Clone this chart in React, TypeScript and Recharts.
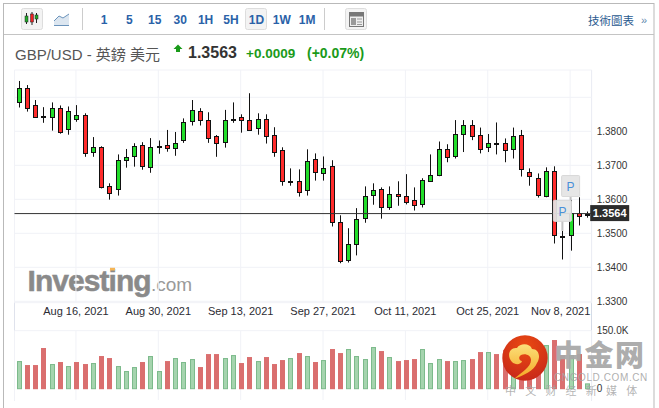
import React from "react";
import { ComposedChart, Bar, XAxis, YAxis, CartesianGrid, ReferenceLine, ReferenceDot } from "recharts";

const opens = [1.3885,1.3926,1.3876,1.3844,1.3841,1.3870,1.3806,1.3835,1.3847,1.3738,1.3753,1.3638,1.3630,1.3715,1.3727,1.3759,1.3694,1.3757,1.3759,1.3750,1.3773,1.3829,1.3859,1.3832,1.3785,1.3768,1.3835,1.3841,1.3832,1.3809,1.3835,1.3788,1.3744,1.3655,1.3655,1.3626,1.3718,1.3676,1.3697,1.3532,1.3421,1.3468,1.3544,1.3612,1.3629,1.3576,1.3615,1.3609,1.3597,1.3585,1.3653,1.3671,1.3747,1.3726,1.3794,1.3820,1.3788,1.3753,1.3765,1.3765,1.3747,1.3788,1.3679,1.3662,1.3609,1.3682,1.3491,1.3494,1.3559,1.3556];
const highs = [1.3948,1.3936,1.3892,1.3871,1.3885,1.3876,1.3873,1.3877,1.3853,1.3783,1.3756,1.3647,1.3732,1.3748,1.3765,1.3768,1.3780,1.3773,1.3804,1.3798,1.3838,1.3892,1.3868,1.3856,1.3789,1.3863,1.3885,1.3850,1.3912,1.3853,1.3850,1.3812,1.3753,1.3691,1.3688,1.3747,1.3735,1.3726,1.3715,1.3553,1.3515,1.3574,1.3638,1.3647,1.3635,1.3638,1.3653,1.3674,1.3635,1.3662,1.3732,1.3770,1.3762,1.3833,1.3833,1.3833,1.3811,1.3792,1.3826,1.3779,1.3811,1.3804,1.3691,1.3676,1.3694,1.3697,1.3507,1.3598,1.3606,1.3564];
const lows = [1.3870,1.3858,1.3840,1.3825,1.3802,1.3793,1.3790,1.3828,1.3725,1.3725,1.3632,1.3599,1.3611,1.3693,1.3696,1.3687,1.3678,1.3734,1.3740,1.3728,1.3766,1.3817,1.3817,1.3766,1.3725,1.3752,1.3825,1.3796,1.3802,1.3790,1.3764,1.3725,1.3640,1.3640,1.3608,1.3611,1.3655,1.3655,1.3520,1.3412,1.3414,1.3435,1.3531,1.3584,1.3543,1.3569,1.3581,1.3585,1.3567,1.3576,1.3652,1.3668,1.3709,1.3720,1.3739,1.3774,1.3735,1.3739,1.3732,1.3709,1.3720,1.3667,1.3640,1.3605,1.3606,1.3470,1.3423,1.3449,1.3523,1.3546];
const closes = [1.3926,1.3868,1.3841,1.3841,1.3868,1.3800,1.3859,1.3847,1.3735,1.3753,1.3635,1.3618,1.3715,1.3723,1.3756,1.3697,1.3753,1.3755,1.3750,1.3765,1.3826,1.3862,1.3832,1.3779,1.3765,1.3832,1.3834,1.3832,1.3803,1.3835,1.3785,1.3738,1.3653,1.3653,1.3623,1.3712,1.3679,1.3691,1.3532,1.3418,1.3468,1.3541,1.3609,1.3626,1.3576,1.3615,1.3609,1.3591,1.3582,1.3656,1.3671,1.3747,1.3723,1.3791,1.3820,1.3788,1.3747,1.3765,1.3762,1.3744,1.3785,1.3688,1.3668,1.3612,1.3682,1.3494,1.3489,1.3559,1.3550,1.3556];
const volumesK = [71.5,61.2,61.2,105.2,63.8,69,58.6,69,63.8,66.4,84.5,79.3,58.6,45.7,56,69,84.5,45.7,71.5,79.3,69,76.7,56,89.6,89.6,79.3,87,66.4,81.9,71.5,81.9,63.8,74.1,79.3,92.2,84.5,69,74.1,102.6,92.2,102.6,84.5,76.7,107.8,97.4,81.9,71.5,74.1,76.7,102.6,66.4,76.7,71.5,71.5,74.1,76.7,94.8,94.8,89.6,100,87,100,82.8,100,112.9,125.9,87,87,89.6,13.8];
const volumeUp = [1,0,0,0,1,0,1,0,0,1,0,0,1,1,1,0,1,1,0,1,1,1,0,0,0,1,1,0,0,1,0,0,0,1,0,1,0,1,0,0,1,1,1,1,0,1,0,0,0,1,1,1,0,1,1,0,0,1,0,0,1,0,0,0,1,0,0,1,0,1];

const dateTicks = [7, 17, 27, 37, 47, 57, 67];
const dateLabels = ["Aug 16, 2021", "Aug 30, 2021", "Sep 13, 2021", "Sep 27, 2021", "Oct 11, 2021", "Oct 25, 2021", "Nov 8, 2021"];
const priceTicks = [1.33, 1.34, 1.35, 1.36, 1.37, 1.38, 1.39];
const volumeTicks = [0, 150];
const markers = [{ i: 67, price: 1.3639 }, { i: 66, price: 1.3566 }];
const intervals = ["1", "5", "15", "30", "1H", "5H", "1D", "1W", "1M"];
const lastLine = 1.3558;
const lastTag = "1.3564";

const candleData = opens.map((o, i) => ({ i, open: o, high: highs[i], low: lows[i], close: closes[i], range: [lows[i], highs[i]] }));
const volumeData = volumesK.map((v, i) => ({ i, v, up: volumeUp[i] }));

const FONT = "'Liberation Sans', Arial, sans-serif";
const CJK = "'Liberation Sans', 'Noto Sans CJK TC', sans-serif";
const W = 659, H = 408;
const MARGIN = { left: 14.5, right: 7.3 };
const X_DOMAIN: [number, number] = [-0.46, 69.62];

const Candle = (p: any) => {
  const { x, y, width, height, payload } = p;
  const { open, close, high, low } = payload;
  const k = height / (high - low);
  const cx = Math.round(x + width / 2) + 0.5;
  const top = y + (high - Math.max(open, close)) * k;
  const h = Math.abs(open - close) * k;
  const fill = close >= open ? "#22dd2a" : "#ff2b2b";
  return (
    <g>
      <line x1={cx} x2={cx} y1={y} y2={y + height} stroke="#111" strokeWidth={1} />
      <rect x={cx - 2} y={Math.round(top) + 0.5} width={4} height={Math.max(Math.round(h), 1)} fill={fill} stroke="#111" strokeWidth={1} />
    </g>
  );
};

const VolumeBar = (p: any) => {
  const { x, y, width, height, payload } = p;
  const cx = Math.round(x + width / 2) + 0.5;
  return payload.up
    ? <rect x={cx - 2} y={y + 0.5} width={4} height={height - 0.5} fill="#a5d4ae" stroke="#7cba8b" strokeWidth={1} />
    : <rect x={cx - 2.5} y={y} width={5} height={height + 0.5} fill="#da6f6f" />;
};

const DateTick = (p: any) => {
  const idx = dateTicks.indexOf(p.payload.value);
  const shift = idx === dateTicks.length - 1 ? -9.5 : 0;
  return <text x={p.x + shift} y={p.y + 4} textAnchor="middle" fontSize={11} fontFamily={FONT} fill="#2b2b33">{dateLabels[idx]}</text>;
};

const Marker = (p: any) => (
  <g>
    <line x1={p.cx + 0.5} x2={p.cx + 0.5} y1={p.cy + 10} y2={p.cy + 20} stroke="#aaa" strokeWidth={2} opacity={0.7} />
    <rect x={p.cx - 8.5} y={p.cy - 10.5} width={18} height={21} rx={1} fill="#e4e4e4" fillOpacity={0.93} stroke="#d8d8d8" />
    <text x={p.cx + 0.5} y={p.cy + 5} textAnchor="middle" fontSize={12} fontFamily={FONT} fill="#4a90d9">P</text>
  </g>
);

const TagLabel = (p: any) => {
  const { x, y, width } = p.viewBox;
  const left = x + width - 1.5;
  return (
    <g>
      <rect x={left} y={y - 8.5} width={39} height={16} fill="#2c2c2c" />
      <text x={left + 19.5} y={y + 3.5} textAnchor="middle" fontSize={11} fontWeight="bold" fontFamily={FONT} fill="#fff">{lastTag}</text>
    </g>
  );
};

const Background = () => (
  <svg width={W} height={H} style={{ position: "absolute", left: 0, top: 0 }}>
    <rect x={3.5} y={3.5} width={650.5} height={420} fill="#fff" stroke="#b9b9b9" />
    <line x1={4} x2={654} y1={34.5} y2={34.5} stroke="#c4c4c4" />
    <rect x={21.5} y={8.5} width={21} height={21} rx={2} fill="#f3f3f3" stroke="#ddd" />
    <g stroke="#222" strokeWidth={1}>
      <line x1={26.5} x2={26.5} y1={13} y2={24} /><line x1={32} x2={32} y1={12} y2={25} /><line x1={36.5} x2={36.5} y1={13} y2={23} />
    </g>
    <rect x={25} y={16} width={3} height={6} fill="#22aa2a" stroke="#222" strokeWidth={0.5} />
    <rect x={30.5} y={14} width={3} height={8} fill="#e22" stroke="#222" strokeWidth={0.5} />
    <rect x={35} y={15} width={3} height={4} fill="#22aa2a" stroke="#222" strokeWidth={0.5} />
    <path d="M54 21 L59 16 L63 18 L69 14 V26 H54 Z" fill="#dce6f0" />
    <path d="M54 21 L59 16 L63 18 L69 14 M54 25.5 H69" fill="none" stroke="#6b93bb" strokeWidth={1} />
    <line x1={82.5} x2={82.5} y1={8} y2={30} stroke="#ccc" />
    <line x1={324.5} x2={324.5} y1={8} y2={30} stroke="#ccc" />
    <rect x={245.5} y={8.5} width={21} height={21} rx={2} fill="#f3f3f3" stroke="#ddd" />
    {intervals.map((t, i) => (
      <text key={t} x={104 + i * 25.4} y={23.5} textAnchor="middle" fontSize={12} fontWeight="bold" fontFamily={FONT} fill="#2a62a8">{t}</text>
    ))}
    <rect x={345.5} y={8.5} width={21} height={21} rx={2} fill="#f3f3f3" stroke="#ddd" />
    <rect x={349.5} y={12.5} width={14} height={14} fill="#eee" stroke="#777" />
    <rect x={350} y={13} width={13} height={3.5} fill="#777" />
    <rect x={351} y={18} width={5} height={7} fill="#999" />
    <line x1={357} x2={362} y1={19} y2={19} stroke="#999" /><line x1={357} x2={362} y1={22} y2={22} stroke="#999" /><line x1={357} x2={362} y1={24.5} y2={24.5} stroke="#999" />
    <text x={588} y={24.5} fontSize={11.5} fontFamily={CJK} fill="#2a5a90">技術圖表</text>
    <text x={641} y={24} fontSize={11} fontFamily={FONT} fill="#5f87ad">»</text>

    <text x={15} y={60} fontSize={15} fontFamily={CJK} fill="#555">GBP/USD - 英鎊 美元</text>
    <path d="M178 44.5 L182.5 49 H180 V52 H176 V49 H173.5 Z" fill="#1a9a1a" />
    <text x={188} y={58} fontSize={16} fontWeight="bold" fontFamily={FONT} fill="#333">1.3563</text>
    <text x={246} y={58} fontSize={13.5} fontWeight="bold" fontFamily={FONT} fill="#1a9a1a">+0.0009</text>
    <text x={307} y={58} fontSize={14} fontWeight="bold" fontFamily={FONT} fill="#1a9a1a">(+0.07%)</text>

    <line x1={14.5} x2={14.5} y1={70} y2={400.5} stroke="#dfe2ec" />
    <line x1={591.5} x2={591.5} y1={70} y2={400.5} stroke="#d5dbe6" />
    <text x={27.5} y={291} fontSize={30} fontWeight="bold" letterSpacing={-0.95} fontFamily={FONT} fill="#8a8a8a" stroke="#8a8a8a" strokeWidth={0.5}>Investing</text>
    <text x={151} y={291} fontSize={19} fontFamily={FONT} fill="#9a9a9a">.com</text>
    <rect x={110} y={267} width={5} height={3.5} fill="#f5b556" />
  </svg>
);

const Foreground = () => (
  <svg width={W} height={H} style={{ position: "absolute", left: 0, top: 0, pointerEvents: "none" }}>
    <defs>
      <radialGradient id="sun" cx="0.5" cy="0.25" r="0.85">
        <stop offset="0" stopColor="#ea4a12" />
        <stop offset="1" stopColor="#c4241a" />
      </radialGradient>
      <linearGradient id="cloud" x1="0" y1="0" x2="0" y2="1">
        <stop offset="0" stopColor="#fbe07a" />
        <stop offset="1" stopColor="#f5a623" />
      </linearGradient>
    </defs>
    <circle cx={525} cy={358} r={22.7} fill="url(#sun)" />
    <path d="M512 362 C506 355 510 347 517 348 C520 343 530 343 532 349 C539 349 541 357 537 363 C534 371 524 375 514 379 C522 372 531 367 531 360 C531 355 525 353 521 355 C518 357 519 361 522 361 C521 365 515 365 512 362 Z" fill="url(#cloud)" />
    <text x={554} y={366} fontSize={29} fontWeight={900} letterSpacing={1.5} fontFamily="'Noto Sans CJK SC', sans-serif" fill="#a8a8a8" fillOpacity={0.95}>中金网</text>
    <text x={554} y={381} fontSize={10} letterSpacing={0.6} fontFamily={FONT} fill="#a6a6a6" fillOpacity={0.9}>CNGOLD.COM.CN</text>
    <text x={505} y={395} fontSize={11} letterSpacing={9.2} fontFamily="'Noto Sans CJK SC', sans-serif" fill="#a6a6a6" fillOpacity={0.85}>中文财经新媒体</text>
  </svg>
);

export default function App() {
  return (
    <div style={{ position: "absolute", left: 0, top: 0, width: W, height: H, overflow: "hidden", background: "#fff" }}>
      <Background />
      <div style={{ position: "absolute", left: 0, top: 0 }}>
        <ComposedChart width={W} height={H} data={candleData} margin={{ top: 70, bottom: 77.3, ...MARGIN }} barSize={5}>
          <CartesianGrid stroke="#f1f2f7" strokeWidth={1} />
          <XAxis dataKey="i" type="number" domain={X_DOMAIN} allowDataOverflow ticks={dateTicks} height={28} axisLine={false} tickLine={false} tick={DateTick} interval={0} />
          <YAxis orientation="right" type="number" width={60} domain={[1.32959, 1.39803]} allowDataOverflow ticks={priceTicks} interval={0} axisLine={false} tickLine={false} tickSize={0} tickMargin={5}
            tick={{ fontSize: 10, fontFamily: FONT, fill: "#333" }} tickFormatter={(v: number) => (v === 1.39 ? "" : v.toFixed(4))} />
          <Bar dataKey="range" shape={Candle} isAnimationActive={false} />
          <ReferenceLine y={lastLine} stroke="#333" strokeWidth={1} label={TagLabel} />
          {markers.map((m) => (
            <ReferenceDot key={m.i} x={m.i} y={m.price} r={9} shape={Marker} />
          ))}
        </ComposedChart>
      </div>
      <div style={{ position: "absolute", left: 0, top: 0 }}>
        <ComposedChart width={W} height={H} data={volumeData} margin={{ top: 330.7, bottom: 8, ...MARGIN }} barSize={5}>
          <CartesianGrid stroke="#f1f2f7" strokeWidth={1} horizontalValues={[150]} />
          <XAxis dataKey="i" type="number" domain={X_DOMAIN} allowDataOverflow ticks={dateTicks} hide />
          <YAxis orientation="right" type="number" width={60} domain={[-29.2, 150]} allowDataOverflow ticks={volumeTicks} interval={0} axisLine={false} tickLine={false} tickSize={0} tickMargin={5}
            tick={{ fontSize: 10, fontFamily: FONT, fill: "#333" }} tickFormatter={(v: number) => (v === 0 ? "0" : v.toFixed(1) + "K")} />
          <Bar dataKey="v" shape={VolumeBar} isAnimationActive={false} />
        </ComposedChart>
      </div>
      <Foreground />
    </div>
  );
}
